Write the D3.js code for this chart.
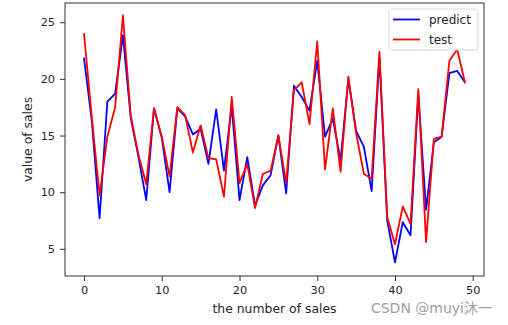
<!DOCTYPE html>
<html>
<head>
<meta charset="utf-8">
<script src="https://cdn.jsdelivr.net/npm/d3@7"></script>
<style>
html,body{margin:0;padding:0;background:#fff;}
svg{display:block;font-family:"DejaVu Sans",sans-serif;}
</style>
</head>
<body>
<svg id="chart" width="508" height="325"></svg>
<script>
const predict = [21.8,16.3,7.7,18.0,18.7,23.85,16.6,13.1,9.3,17.4,14.8,10.0,17.4,16.7,15.1,15.6,12.5,17.3,11.9,17.6,9.3,13.1,8.8,10.6,11.5,15.0,9.9,19.4,18.4,17.2,21.6,14.9,16.5,12.8,20.0,15.4,14.0,10.1,21.9,7.5,3.8,7.35,6.2,18.6,8.45,14.4,14.9,20.5,20.7,19.7];
const test = [23.95,16.6,9.7,14.9,17.5,25.6,16.8,13.3,10.7,17.4,14.9,11.4,17.5,16.8,13.5,15.9,13.0,12.9,9.6,18.4,10.8,12.5,8.6,11.6,11.9,15.0,10.8,19.0,19.7,16.0,23.3,12.0,17.4,11.8,20.2,15.2,11.6,11.2,22.4,7.8,5.4,8.75,7.2,19.1,5.6,14.7,14.9,21.6,22.6,19.7];
const seriesNames = ["predict","test"];
const seriesColors = ["#0000ff","#ff0000"];
const xTicks = [0,10,20,30,40,50];
const yTicks = [5,10,15,20,25];
const xLabel = "the number of sales";
const yLabel = "value of sales";
const watermark = "CSDN @muyi沐一";

const svg = d3.select("#chart");
const L = 65, R = 484, T = 3, B = 276;
const x = d3.scaleLinear().domain([-2.45, 51.45]).range([L, R]);
const y = d3.scaleLinear().domain([2.6, 26.7]).range([B, T]);

const plot = svg.append("g");
const line = d3.line().x((d,i)=>x(i)).y(d=>y(d));
[predict, test].forEach((s,k)=>{
  plot.append("path").attr("d", line(s)).attr("fill","none")
    .attr("stroke", seriesColors[k]).attr("stroke-width",1.8)
    .attr("stroke-linejoin","round").attr("stroke-linecap","square");
});

// frame
svg.append("rect").attr("x",L).attr("y",T).attr("width",R-L).attr("height",B-T)
  .attr("fill","none").attr("stroke","#333").attr("stroke-width",1);

const xAxis = svg.append("g").attr("transform",`translate(0,${B})`)
  .call(d3.axisBottom(x).tickValues(xTicks).tickSize(5).tickPadding(4.5).tickFormat(d3.format("d")));
const yAxis = svg.append("g").attr("transform",`translate(${L},0)`)
  .call(d3.axisLeft(y).tickValues(yTicks).tickSize(5).tickPadding(5).tickFormat(d3.format("d")));
[xAxis,yAxis].forEach(a=>{
  a.select(".domain").remove();
  a.selectAll(".tick line").attr("stroke","#333");
  a.selectAll(".tick text").attr("fill","#262626").style("font-size","11.3px").style("font-family","DejaVu Sans");
});

svg.append("text").attr("x",(L+R)/2).attr("y",312.5).attr("text-anchor","middle")
  .attr("fill","#262626").style("font-size","12.4px").text(xLabel);
svg.append("text").attr("transform",`translate(32,${(T+B)/2}) rotate(-90)`).attr("text-anchor","middle")
  .attr("fill","#262626").style("font-size","12.4px").text(yLabel);

// legend
const lg = svg.append("g");
lg.append("rect").attr("x",389).attr("y",9).attr("width",89).attr("height",41).attr("rx",2.5)
  .attr("fill","#fff").attr("fill-opacity",0.8).attr("stroke","#d9d9d9");
seriesNames.forEach((n,k)=>{
  const yy = 19.5 + k*20;
  lg.append("line").attr("x1",393).attr("x2",420).attr("y1",yy).attr("y2",yy)
    .attr("stroke",seriesColors[k]).attr("stroke-width",1.8);
  lg.append("text").attr("x",429).attr("y",yy+4.3).attr("fill","#262626")
    .style("font-size","12px").text(n);
});

svg.append("text").attr("x",492).attr("y",313).attr("text-anchor","end")
  .attr("fill","#a0a0a0").style("font-size","14px")
  .style("font-family","'DejaVu Sans','Noto Sans CJK SC',sans-serif").text(watermark);
</script>
</body>
</html>
